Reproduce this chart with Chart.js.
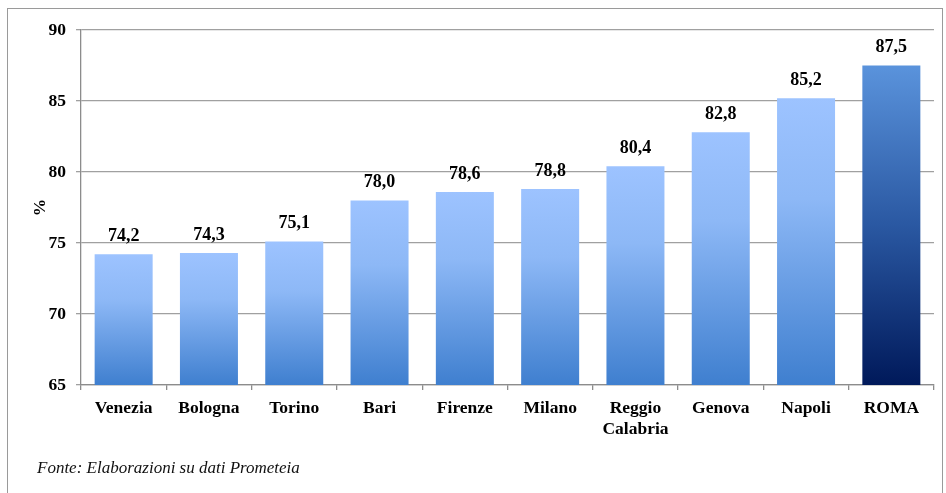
<!DOCTYPE html>
<html><head><meta charset="utf-8">
<script src="https://cdn.jsdelivr.net/npm/chart.js@4"></script>
<style>
html,body{margin:0;padding:0;background:#fff;}
#wrap{position:relative;width:946px;height:493px;overflow:hidden;}
#frame{position:absolute;left:7px;top:8px;width:936px;height:520px;border:1px solid #9a9a9a;box-sizing:border-box;}
#c{position:absolute;left:0;top:0;}
#src{position:absolute;left:37px;top:458px;font:italic 17px "Liberation Serif",serif;color:#111;}
</style></head><body>
<div id="wrap">
<div id="frame"></div>
<canvas id="c" width="946" height="493"></canvas>
<div id="src">Fonte: Elaborazioni su dati Prometeia</div>
</div>
<script>
const categories = ["Venezia","Bologna","Torino","Bari","Firenze","Milano",["Reggio","Calabria"],"Genova","Napoli","ROMA"];
const values = [74.2,74.3,75.1,78.0,78.6,78.8,80.4,82.8,85.2,87.5];
const yTicks = [65,70,75,80,85,90];
const highlightIndex = 9;

const FONT = '"Liberation Serif","Times New Roman",serif';

function barColor(ctx){
  const chart = ctx.chart;
  const area = chart.chartArea;
  if(!area || ctx.type!=='data') return '#7fa8e8';
  const ys = chart.scales.y;
  const top = ys.getPixelForValue(values[ctx.dataIndex]);
  const bot = ys.getPixelForValue(ys.min);
  const g = chart.ctx.createLinearGradient(0, top, 0, bot);
  if(ctx.dataIndex===highlightIndex){
    g.addColorStop(0,'#5a93dc');
    g.addColorStop(0.5,'#2a58a2');
    g.addColorStop(1,'#00195a');
  } else {
    g.addColorStop(0,'#9dc3ff');
    g.addColorStop(0.35,'#8db8f6');
    g.addColorStop(1,'#3f7fcf');
  }
  return g;
}

const labelPlugin = {
  id:'labels',
  afterDatasetsDraw(chart){
    const c = chart.ctx;
    const meta = chart.getDatasetMeta(0);
    c.save();
    c.font = 'bold 18px ' + FONT;
    c.fillStyle = '#000';
    c.textAlign = 'center';
    c.textBaseline = 'middle';
    meta.data.forEach((el,i)=>{
      c.fillText(values[i].toFixed(1).replace('.',','), el.x, el.y - 18);
    });
    c.font = 'bold 17.5px ' + FONT;
    c.translate(40, (chart.chartArea.top+chart.chartArea.bottom)/2);
    c.rotate(-Math.PI/2);
    c.fillText('%',0,0);
    c.restore();
  }
};

new Chart(document.getElementById('c'),{
  type:'bar',
  data:{labels:categories,datasets:[{data:values,backgroundColor:barColor,borderWidth:0,categoryPercentage:0.68,barPercentage:1}]},
  options:{
    responsive:false,animation:false,
    layout:{padding:{left:0,right:12,top:30,bottom:48}},
    plugins:{legend:{display:false},tooltip:{enabled:false}},
    scales:{
      y:{min:65,max:90,
        afterFit(s){s.width=81;},
        afterBuildTicks(s){s.ticks=yTicks.map(v=>({value:v}));},
        ticks:{font:{family:FONT,size:17.5,weight:'bold'},color:'#000',padding:10},
        grid:{color:'#a0a0a0',lineWidth:1.3,tickLength:5},
        border:{color:'#8c8c8c',width:1.3}
      },
      x:{
        afterFit(s){s.height=60;},
        ticks:{font:{family:FONT,size:17.5,weight:'bold'},color:'#000',padding:8,maxRotation:0,autoSkip:false},
        grid:{display:true,drawOnChartArea:false,offset:true,color:'#8c8c8c',tickLength:5,lineWidth:1.3},
        border:{color:'#8c8c8c',width:1.3}
      }
    }
  },
  plugins:[labelPlugin]
});
</script>
</body></html>
